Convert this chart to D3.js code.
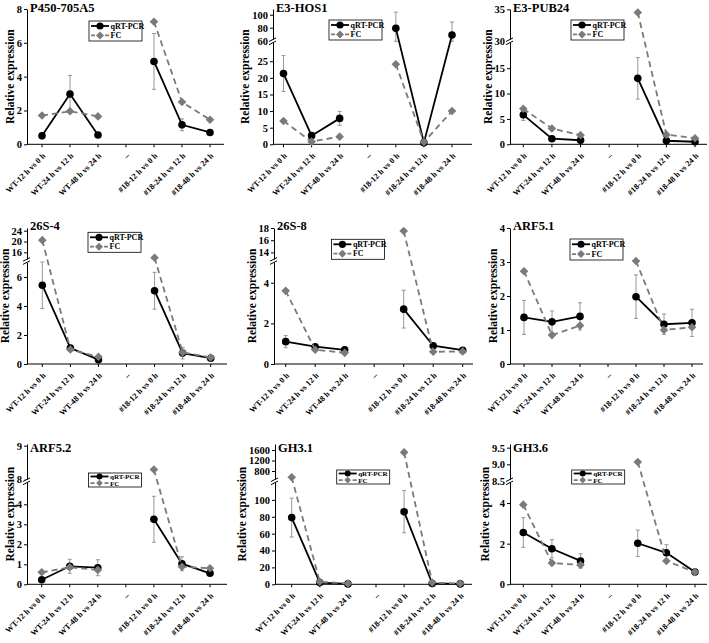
<!DOCTYPE html>
<html>
<head>
<meta charset="utf-8">
<script src="https://cdn.jsdelivr.net/npm/d3@7"></script>
<style>
body { margin: 0; background: #fff; }
text { font-family: "Liberation Serif", "Times New Roman", serif; }
</style>
</head>
<body>
<div id="chart-area"></div>
<script>

// data
var categories = ['WT-12 h vs 0 h', 'WT-24 h vs 12 h', 'WT-48 h vs 24 h', '–',
    '#18-12 h vs 0 h', '#18-24 h vs 12 h', '#18-48 h vs 24 h'];
var genes = ['P450-705A5', 'E3-HOS1', 'E3-PUB24', '26S-4', '26S-8', 'ARF5.1', 'ARF5.2', 'GH3.1', 'GH3.6'];

// one row per gene, values for the 6 real categories (the dash slot has none)
var qrtValues = [
    [0.5, 2.97, 0.55, 4.9, 1.15, 0.7],
    [21.3, 2.6, 7.8, 79, 0.5, 68.8],
    [5.8, 1.1, 0.8, 13.0, 0.7, 0.5],
    [5.43, 1.1, 0.3, 5.05, 0.75, 0.4],
    [1.1, 0.85, 0.7, 2.7, 0.9, 0.68],
    [1.37, 1.24, 1.4, 1.98, 1.17, 1.21],
    [0.23, 0.9, 0.83, 3.25, 1.03, 0.55],
    [79, 2, 0.5, 86, 1, 0.5],
    [2.55, 1.75, 1.15, 2.02, 1.55, 0.6]
];
var qrtErrors = [
    [0.08, 1.1, 0.08, 1.65, 0.35, 0.1],
    [5.4, 0.8, 2.1, 25, 0.3, 20],
    [1.1, 0.3, 0.2, 4.1, 0.3, 0.2],
    [1.6, 0.2, 0.1, 1.27, 0.4, 0.1],
    [0.3, 0.1, 0.1, 0.93, 0.15, 0.08],
    [0.5, 0.32, 0.4, 0.64, 0.3, 0.4],
    [0.08, 0.35, 0.4, 1.15, 0.35, 0.1],
    [23, 2, 1, 25, 1, 1],
    [0.73, 0.45, 0.35, 0.65, 0.4, 0.1]
];
var fcValues = [
    [1.7, 1.95, 1.65, 7.25, 2.5, 1.45],
    [7.0, 0.8, 2.3, 24.1, 0.7, 10.0],
    [7.0, 3.1, 1.8, 34.5, 1.9, 1.2],
    [20.5, 1.0, 0.5, 14.0, 0.8, 0.45],
    [3.6, 0.7, 0.55, 17.5, 0.6, 0.62],
    [2.73, 0.85, 1.13, 3.03, 1.0, 1.08],
    [0.6, 0.85, 0.72, 8.3, 0.88, 0.8],
    [560, 3, 1, 1510, 2, 1],
    [3.92, 1.05, 0.95, 9.07, 1.15, 0.6]
];

// y axes (lower part, and upper part above the break)
var lowerDomains = [[0, 8], [0, 31], [0, 20.3], [0, 7.1], [0, 5.07], [0, 4], [0, 5.15], [0, 122], [0, 5.07]];
var upperDomains = [null, [59.1, 108.8], [29.9, 35.05], [12.8, 25], [12.6, 18], null, [7.95, 9.05], [408, 1829], [8.49, 9.61]];
var lowerTicks = [[0, 2, 4, 6, 8], [0, 5, 10, 15, 20, 25], [0, 5, 10, 15], [0, 2, 4, 6], [0, 2, 4],
    [0, 1, 2, 3, 4], [0, 1, 2, 3, 4], [0, 20, 40, 60, 80, 100], [0, 2, 4]];
var upperTicks = [[], [60, 80, 100], [30, 35], [16, 20, 24], [14, 16, 18], [], [8, 9], [800, 1200, 1600], [8.5, 9.0, 9.5]];
var upperFormat = [null, null, null, null, null, null, null, null, '.1f'];

// layout
var def = {
    width: 709,
    height: 643,
    breakPx: 103,
    gray: '#7a7a7a'
};
var rowTop = [9, 228, 444];
var rowZero = [144.3, 364, 584.3];
var titleBase = [11.5, 229.5, 452];
var axisX = [27, 273, 510, 27, 274, 510, 27, 275, 510];
var firstX = [42, 283.5, 523.3, 42.3, 285.7, 524, 41.7, 291.7, 523.3];
var lastX = [210, 452, 695, 210.7, 462.7, 692, 210, 460.3, 695];
var endX = [224, 472, 707, 227, 473, 703, 227, 472, 707];
// legend box: dx from axis, dy from row top, height
var legendPos = [[62, 12, 20], [56, 11, 20], [61, 11, 20], [61, 4.3, 20], [57.4, 11.3, 20],
    [60, 11, 21], [61.5, 29, 14], [61.7, 26, 14], [61.7, 26, 14]];

var svg = d3.select('#chart-area').append('svg')
    .attr('width', def.width)
    .attr('height', def.height);
svg.append('rect').attr('width', def.width).attr('height', def.height).attr('fill', '#fff');

var dataCats = categories.filter(c => c !== '–');

function diamond(sel, r) {
    return sel.attr('d', 'M0,' + (-r) + 'L' + r + ',0L0,' + r + 'L' + (-r) + ',0Z');
}

genes.forEach((gene, p) => {
    var row = Math.floor(p / 3);
    var zero = rowZero[row], top = rowTop[row];
    var hasBreak = upperDomains[p] != null;
    var breakY = zero - def.breakPx;
    var ax = axisX[p];

    var lo = d3.scaleLinear().domain(lowerDomains[p]).range([zero, hasBreak ? breakY : top]);
    var hi = hasBreak ? d3.scaleLinear().domain(upperDomains[p]).range([breakY, top]) : null;
    var yPos = v => {
        if (!hasBreak || v <= lowerDomains[p][1]) return lo(v);
        if (v >= upperDomains[p][0]) return hi(v);
        return breakY;
    };
    var x = d3.scalePoint().domain(categories).range([firstX[p], lastX[p]]);

    var g = svg.append('g');

    // y axis
    var yAxisG = g.append('g').attr('transform', 'translate(' + ax + ',0)');
    yAxisG.append('g').call(d3.axisLeft(lo).tickValues(lowerTicks[p]).tickFormat(d => d)
        .tickSize(3).tickSizeOuter(0).tickPadding(2));
    if (hasBreak) {
        var upAx = d3.axisLeft(hi).tickValues(upperTicks[p]).tickSize(3).tickSizeOuter(0).tickPadding(2)
            .tickFormat(upperFormat[p] ? d3.format(upperFormat[p]) : d => d);
        yAxisG.append('g').call(upAx);
    }
    yAxisG.selectAll('text').attr('font-size', '10.5px').attr('font-weight', 'bold').attr('fill', '#000');
    yAxisG.selectAll('path, line').attr('stroke', '#000').attr('stroke-width', 1);

    if (hasBreak) {
        var bk = yAxisG.append('g').attr('transform', 'translate(0,' + breakY + ')');
        bk.append('rect').attr('x', -5).attr('y', -1.6).attr('width', 10).attr('height', 3.2).attr('fill', '#fff');
        [-1.6, 1.6].forEach(o => {
            bk.append('line').attr('x1', -4).attr('x2', 3).attr('y1', o + 1.8).attr('y2', o - 1.8)
                .attr('stroke', '#000').attr('stroke-width', 1);
        });
    }

    // x axis
    g.append('line').attr('x1', ax).attr('x2', endX[p]).attr('y1', zero).attr('y2', zero)
        .attr('stroke', '#000').attr('stroke-width', 1);
    g.selectAll('.xtick').data(categories).enter().append('line')
        .attr('x1', d => x(d)).attr('x2', d => x(d))
        .attr('y1', zero).attr('y2', zero + 3)
        .attr('stroke', '#000').attr('stroke-width', 1);
    g.selectAll('.xlab').data(categories).enter().append('text')
        .attr('transform', d => 'translate(' + (x(d) + 2) + ',' + (zero + 10) + ') rotate(-45)')
        .attr('text-anchor', 'end')
        .attr('dy', '0.35em')
        .attr('font-size', '8.2px')
        .attr('font-weight', 'bold')
        .text(d => d);

    // y label, placed just left of the tick labels
    var bb = yAxisG.node().getBBox();
    g.append('text')
        .attr('transform', 'translate(' + (ax + bb.x - 3) + ',' + ((top + zero) / 2) + ') rotate(-90)')
        .attr('text-anchor', 'middle')
        .attr('font-size', '11.5px')
        .attr('font-weight', 'bold')
        .text('Relative expression');

    // title
    g.append('text')
        .attr('x', ax + 3).attr('y', titleBase[row])
        .attr('font-size', '12.5px')
        .attr('font-weight', 'bold')
        .text(gene);

    var qrt = dataCats.map((c, i) => ({ cat: c, v: qrtValues[p][i], e: qrtErrors[p][i] }));
    var fc = dataCats.map((c, i) => ({ cat: c, v: fcValues[p][i] }));
    var groups = d => [d.slice(0, 3), d.slice(3)];
    var line = d3.line().x(d => x(d.cat)).y(d => yPos(d.v));

    // error bars
    var eb = g.selectAll('.err').data(qrt).enter().append('g').attr('transform', d => 'translate(' + x(d.cat) + ',0)');
    eb.append('line').attr('y1', d => yPos(d.v + d.e)).attr('y2', d => yPos(Math.max(0, d.v - d.e)))
        .attr('stroke', '#8c8c8c').attr('stroke-width', 0.9);
    eb.append('line').attr('x1', -2).attr('x2', 2).attr('y1', d => yPos(d.v + d.e)).attr('y2', d => yPos(d.v + d.e))
        .attr('stroke', '#8c8c8c').attr('stroke-width', 0.9);
    eb.append('line').attr('x1', -2).attr('x2', 2).attr('y1', d => yPos(Math.max(0, d.v - d.e))).attr('y2', d => yPos(Math.max(0, d.v - d.e)))
        .attr('stroke', '#8c8c8c').attr('stroke-width', 0.9);

    // qRT-PCR
    groups(qrt).forEach(s => {
        g.append('path').attr('d', line(s)).attr('fill', 'none').attr('stroke', '#000').attr('stroke-width', 1.8);
    });
    g.selectAll('.qc').data(qrt).enter().append('circle')
        .attr('cx', d => x(d.cat)).attr('cy', d => yPos(d.v)).attr('r', 3.8).attr('fill', '#000');

    // FC
    groups(fc).forEach(s => {
        g.append('path').attr('d', line(s)).attr('fill', 'none').attr('stroke', def.gray)
            .attr('stroke-width', 1.8).attr('stroke-dasharray', '6,4');
    });
    g.selectAll('.fd').data(fc).enter().append('path')
        .attr('transform', d => 'translate(' + x(d.cat) + ',' + yPos(d.v) + ')')
        .call(diamond, 4.3)
        .attr('fill', def.gray);

    // legend
    var lp = legendPos[p];
    var lg = g.append('g').attr('transform', 'translate(' + (ax + lp[0]) + ',' + (top + lp[1]) + ')');
    var h = lp[2];
    var small = h < 16;
    lg.append('rect').attr('width', 53).attr('height', h).attr('fill', '#fff')
        .attr('stroke', '#000').attr('stroke-width', 0.8);
    var r1 = h * 0.25, r2 = h * 0.72;
    lg.append('line').attr('x1', 2).attr('x2', 20).attr('y1', r1).attr('y2', r1).attr('stroke', '#000').attr('stroke-width', 1.8);
    lg.append('circle').attr('cx', 11).attr('cy', r1).attr('r', small ? 3 : 3.6).attr('fill', '#000');
    lg.append('line').attr('x1', 2).attr('x2', 20).attr('y1', r2).attr('y2', r2).attr('stroke', def.gray)
        .attr('stroke-width', 1.8).attr('stroke-dasharray', '4,3');
    lg.append('path').attr('transform', 'translate(11,' + r2 + ')').call(diamond, small ? 3.3 : 4).attr('fill', def.gray);
    [['qRT-PCR', r1], ['FC', r2]].forEach(t => {
        lg.append('text').attr('x', 21.5).attr('y', t[1]).attr('dy', '0.35em')
            .attr('font-size', small ? '7px' : '8px').attr('font-weight', 'bold')
            .text(t[0]);
    });
});

</script>
</body>
</html>
